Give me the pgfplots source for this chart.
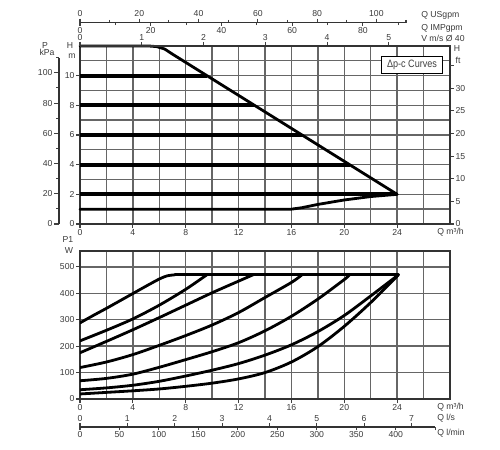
\documentclass[border=0pt]{standalone}
\usepackage{fontspec}
\setmainfont{Liberation Sans}
\usepackage{pgfplots}
\pgfplotsset{compat=1.18}
\definecolor{txt}{HTML}{3A3A3A}
\begin{document}
\begin{tikzpicture}[font=\fontsize{6.5}{7.5}\selectfont, every node/.style={text=txt}]
\path[use as bounding box] (0,0) rectangle (375pt,337.5pt);
\pgfplotsset{
  every axis/.append style={
    scale only axis,
    /pgf/number format/assume math mode=true,
    ticklabel style={font=\fontsize{6.5}{7.5}\selectfont, text=txt, inner sep=1pt},
    tick style={black!75, line width=0.8pt},
    axis line style={black!80, line width=0.9pt},
    tick align=outside,
  },
  curve/.style={black, line width=2.1pt, line join=round, line cap=round},
  hcurve/.style={black, line width=2.8pt, line cap=butt},
  mygrid/.style={
    grid=both,
    major grid style={black!60, line width=1pt},
    minor grid style={black!60, line width=1pt},
  },
}
% ---------------- TOP CHART ----------------
\begin{axis}[
  at={(60pt,169.5pt)}, anchor=south west,
  width=277.5pt, height=133.5pt,
  xmin=0, xmax=28, ymin=0, ymax=12,
  xtick={0,4,...,24}, minor xtick={2,6,...,26},
  ytick={0,2,...,10}, minor ytick={1,3,...,11},
  major tick length=3pt, minor tick length=0pt,
  xtick pos=bottom, ytick pos=left,
  mygrid,
  clip=false,
]
\addplot[hcurve] coordinates {(0,10) (9.6,10)};
\addplot[hcurve] coordinates {(0,8) (13.2,8)};
\addplot[hcurve] coordinates {(0,6) (16.8,6)};
\addplot[hcurve] coordinates {(0,4) (20.4,4)};
\addplot[hcurve] coordinates {(0,2) (24,2)};
\addplot[curve] coordinates {(0,12) (5.2,12) (5.8,11.96) (6.4,11.8) (7,11.45) (24,2)};
\addplot[curve] coordinates {(0,1) (16,1) (16.8,1.1) (18,1.32) (20,1.62) (22,1.85) (24,2)};
\end{axis}
% right H ft axis
\begin{axis}[
  at={(60pt,169.5pt)}, anchor=south west,
  width=277.5pt, height=133.5pt,
  xmin=0, xmax=28, ymin=0, ymax=39.37,
  hide x axis, axis y line*=right,
  ytick={0,5,...,30}, major tick length=3pt,
  extra y ticks={35}, extra y tick labels={ft},
  extra y tick style={yticklabel style={yshift=4pt}},
]
\end{axis}
% left P kPa axis
\begin{axis}[
  at={(44.25pt,169.5pt)}, anchor=south west,
  width=10pt, height=124.7pt,
  xmin=0, xmax=1, ymin=0, ymax=110,
  hide x axis, axis y line*=left,
  ytick={0,20,...,100}, minor ytick={10,30,...,110},
  major tick length=3.75pt, minor tick length=2pt,
]
\end{axis}
% V m/s axis
\begin{axis}[
  at={(60pt,169.5pt)}, anchor=south west,
  width=277.5pt, height=133.5pt,
  xmin=0, xmax=5.99, ymin=0, ymax=1,
  hide y axis, axis x line*=top,
  xtick={0,1,...,5}, major tick length=3pt,
]
\end{axis}
% US gpm axis
\begin{axis}[
  at={(60pt,320.5pt)}, anchor=north west,
  width=244.5pt, height=5pt,
  xmin=0, xmax=110, ymin=0, ymax=1,
  hide y axis, axis x line*=top,
  xtick={0,20,...,100}, minor xtick={10,30,...,110},
  major tick length=3pt, minor tick length=2pt,
]
\end{axis}
% IMP gpm axis
\begin{axis}[
  at={(60pt,320.5pt)}, anchor=south west,
  width=244.5pt, height=5pt,
  xmin=0, xmax=92.2, ymin=0, ymax=1,
  hide y axis, axis x line*=bottom,
  xtick={0,20,...,80}, minor xtick={10,30,...,90},
  major tick length=2.5pt, minor tick length=1.8pt,
]
\end{axis}
% ---------------- BOTTOM CHART ----------------
\begin{axis}[
  at={(60pt,38.25pt)}, anchor=south west,
  width=277.5pt, height=111pt,
  xmin=0, xmax=28, ymin=0, ymax=560,
  xtick={0,4,...,24}, minor xtick={2,6,...,26},
  ytick={0,100,...,500},
  major tick length=3pt, minor tick length=0pt,
  xtick pos=bottom, ytick pos=left,
  mygrid,
]
\addplot[curve, smooth, tension=0.5] coordinates {(0,288) (1,316) (2,343) (3,371) (4,399) (5,427) (6,454) (6.6,466) (7.2,470)};
\addplot[curve] coordinates {(7.2,470) (24.1,470)};
\addplot[curve, smooth, tension=0.5] coordinates {(0,220) (2,260) (4,303) (6,355) (8,415) (9.6,470)};
\addplot[curve, smooth, tension=0.5] coordinates {(0,175) (2,218) (4,262) (6,308) (8,355) (10,402) (12,446) (13.1,470)};
\addplot[curve, smooth, tension=0.5] coordinates {(0,119) (2,140) (4,168) (6,203) (8,240) (10,280) (12,327) (14,384) (16,441) (16.8,470)};
\addplot[curve, smooth, tension=0.5] coordinates {(0,69) (2,78) (4,94) (6,120) (8,149) (10,179) (12,213) (14,258) (16,313) (18,378) (20,452) (20.4,470)};
\addplot[curve, smooth, tension=0.5] coordinates {(0,35) (2,42) (4,52) (6,67) (8,87) (10,109) (12,134) (14,166) (16,205) (18,255) (20,316) (22,390) (24.1,470)};
\addplot[curve, smooth, tension=0.5] coordinates {(0,19) (2,25) (4,31) (6,38) (8,48) (10,60) (12,76) (14,100) (16,140) (18,198) (20,275) (22,365) (24.1,470)};
\end{axis}
% l/min axis
\begin{axis}[
  at={(60pt,17.25pt)}, anchor=south west,
  width=266.4pt, height=5pt,
  xmin=0, xmax=450, ymin=0, ymax=1,
  hide y axis, axis x line*=bottom,
  xtick={0,50,...,400}, extra x ticks={450}, extra x tick labels={},
  major tick length=2.5pt,
]
\end{axis}
% l/s axis
\begin{axis}[
  at={(60pt,17.25pt)}, anchor=north west,
  width=266.4pt, height=5pt,
  xmin=0, xmax=7.5, ymin=0, ymax=1,
  hide y axis, axis x line*=top,
  xtick={0,1,...,7},
  major tick length=3pt,
]
\end{axis}
% ---------------- LABELS ----------------
\node[anchor=west, inner sep=0pt] at (315.75pt,326.25pt) {Q USgpm};
\node[anchor=west, inner sep=0pt] at (315.75pt,316.5pt) {Q IMPgpm};
\node[anchor=west, inner sep=0pt] at (315.75pt,309pt) {V m/s Ø 40};
\node[inner sep=0pt] at (33.75pt,303pt) {P};
\node[inner sep=0pt] at (35.25pt,298pt) {kPa};
\node[inner sep=0pt] at (52.5pt,303pt) {H};
\node[inner sep=0pt] at (54pt,295.5pt) {m};
\node[inner sep=0pt] at (342.75pt,300.75pt) {H};
\node[anchor=west, inner sep=0pt] at (327.75pt,163.5pt) {Q m³/h};
\node[anchor=west, inner sep=0pt] at (327.75pt,32.25pt) {Q m³/h};
\node[anchor=west, inner sep=0pt] at (327.75pt,23.75pt) {Q l/s};
\node[anchor=west, inner sep=0pt] at (327.75pt,12.5pt) {Q l/min};
\node[inner sep=0pt] at (51pt,157.5pt) {P1};
\node[inner sep=0pt] at (51.75pt,149.25pt) {W};
\node[draw=black, line width=1pt, fill=white, minimum width=45.75pt, minimum height=12.5pt, inner sep=1pt, font=\fontsize{8}{9}\selectfont, text=black!75] at (309pt,288.75pt) {\scalebox{0.85}[1]{Δp-c Curves}};
\end{tikzpicture}
\end{document}
